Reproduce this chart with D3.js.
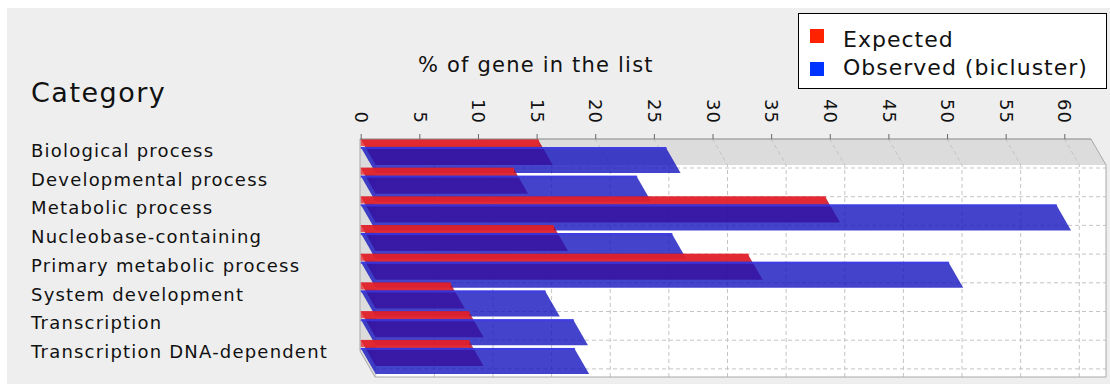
<!DOCTYPE html>
<html>
<head>
<meta charset="utf-8">
<script src="https://cdn.jsdelivr.net/npm/d3@7"></script>
<style>
  body { margin: 0; background: #fff; }
  text { font-family: "DejaVu Sans", sans-serif; fill: #111; }
</style>
</head>
<body>
<div id="chart"></div>
<script>
// Data
const categories = [
    "Biological process",
    "Developmental process",
    "Metabolic process",
    "Nucleobase-containing",
    "Primary metabolic process",
    "System development",
    "Transcription",
    "Transcription DNA-dependent"
];
const expected = [15.1, 13.0, 39.6, 16.4, 33.0, 7.6, 9.2, 9.2];
const observed = [26.0, 23.5, 59.3, 26.5, 50.1, 15.7, 18.1, 18.2];
const xTicks = [0, 5, 10, 15, 20, 25, 30, 35, 40, 45, 50, 55, 60];
const seriesNames = ["Expected", "Observed (bicluster)"];

// dimensions
const W = 1110, H = 388;
const dx = 15, dy = 26;          // 3d offset
const axisY = 139;
const barH = 7;

var svg = d3.select("#chart").append("svg")
    .attr("width", W)
    .attr("height", H);

// panel background
svg.append("rect")
    .attr("x", 7).attr("y", 8)
    .attr("width", W - 7).attr("height", 376)
    .attr("fill", "#eeeeee");

// scales
const x = d3.scaleLinear()
    .domain([0, 60])
    .range([360.7, 1064.3]);
const y = d3.scaleBand()
    .domain(categories)
    .range([axisY, axisY + 8 * 28.7])
    .padding(0);

const xLeft = 360, xRight = 1091;
const wallTop = axisY + dy, wallBottom = 377;

// back wall
svg.append("rect")
    .attr("x", xLeft + dx).attr("y", wallTop)
    .attr("width", xRight - xLeft).attr("height", wallBottom - wallTop)
    .attr("fill", "#ffffff");

// top face + left face
svg.append("path")
    .attr("d", `M${xLeft},${axisY} L${xRight},${axisY} L${xRight + dx},${wallTop} L${xLeft + dx},${wallTop} Z`)
    .attr("fill", "#dcdcdc");
svg.append("path")
    .attr("d", `M${xLeft},${axisY} L${xLeft + dx},${wallTop} L${xLeft + dx},${wallBottom} L${xLeft},${wallBottom - dy} Z`)
    .attr("fill", "#dcdcdc");

// grid lines
const grid = svg.append("g")
    .attr("stroke", "#c4c4c4")
    .attr("stroke-width", 1)
    .attr("stroke-dasharray", "4,3")
    .attr("fill", "none");

grid.selectAll(".vgrid")
    .data(xTicks)
    .enter().append("path")
    .attr("d", d => `M${x(d)},${axisY} L${x(d) + dx},${wallTop} L${x(d) + dx},${wallBottom}`);

grid.selectAll(".hgrid")
    .data(categories)
    .enter().append("line")
    .attr("x1", xLeft + dx).attr("x2", xRight + dx)
    .attr("y1", d => y(d) + 29).attr("y2", d => y(d) + 29);

// wall outline
svg.append("path")
    .attr("d", `M${xRight},${axisY} L${xRight + dx},${wallTop} L${xRight + dx},${wallBottom} L${xLeft + dx},${wallBottom} L${xLeft},${wallBottom - dy}`)
    .attr("fill", "none")
    .attr("stroke", "#a8a8a8");
svg.append("line")
    .attr("x1", xLeft).attr("x2", xLeft)
    .attr("y1", axisY).attr("y2", wallBottom - dy)
    .attr("stroke", "#a8a8a8");

// bars
function barPath(v, y0) {
    let x0 = x(0), x1 = x(v);
    return `M${x0},${y0} L${x1},${y0} L${x1 + dx},${y0 + dy} L${x0 + dx},${y0 + dy} Z`;
}

const series = [
    { values: expected, offset: 0, face: "rgb(190,0,25)", front: "rgb(235,40,45)" },
    { values: observed, offset: 8, face: "rgb(20,20,190)", front: "rgb(60,60,235)" }
];

const bars = svg.append("g");
categories.forEach(function (c, i) {
    series.forEach(function (s) {
        let y0 = y(c) + s.offset;
        let v = s.values[i];
        bars.append("path")
            .attr("d", barPath(v, y0))
            .attr("fill", s.face)
            .attr("fill-opacity", 0.8);
        bars.append("rect")
            .attr("x", x(0)).attr("y", y0)
            .attr("width", x(v) - x(0) + 1).attr("height", s.offset ? 2 : barH)
            .attr("fill", s.front)
            .attr("fill-opacity", 0.75);
    });
});

// X axis on top
const xAxis = d3.axisTop(x)
    .tickValues(xTicks)
    .tickSize(5)
    .tickSizeOuter(0);
const ax = svg.append("g")
    .attr("transform", "translate(0," + axisY + ")")
    .call(xAxis);
ax.select(".domain")
    .attr("d", `M${xLeft},0 H${xRight}`)
    .attr("stroke", "#888");
ax.selectAll(".tick line").attr("stroke", "#666");
ax.selectAll(".tick text")
    .attr("font-size", 18)
    .attr("font-family", "DejaVu Sans")
    .attr("fill", "#111")
    .attr("letter-spacing", 1)
    .attr("text-anchor", "end")
    .attr("transform", "rotate(90)")
    .attr("x", -15)
    .attr("y", 0)
    .attr("dy", "0.35em");

// category labels
svg.selectAll(".cat")
    .data(categories)
    .enter().append("text")
    .attr("x", 31)
    .attr("y", d => y(d) + 18)
    .attr("font-size", 18)
    .attr("letter-spacing", 1.2)
    .text(d => d);

// titles
svg.append("text")
    .attr("x", 31).attr("y", 102)
    .attr("font-size", 27)
    .attr("letter-spacing", 1.5)
    .text("Category");
svg.append("text")
    .attr("x", 418).attr("y", 72)
    .attr("font-size", 21)
    .attr("letter-spacing", 1.2)
    .text("% of gene in the list");

// legend
const legend = svg.append("g");
legend.append("rect")
    .attr("x", 798.5).attr("y", 13.5)
    .attr("width", 308).attr("height", 75)
    .attr("fill", "#fff")
    .attr("stroke", "#000");
const legendColors = ["#ff2200", "#0033ff"];
seriesNames.forEach(function (n, i) {
    legend.append("rect")
        .attr("x", 810).attr("y", 29 + i * 33)
        .attr("width", 14).attr("height", 14)
        .attr("fill", legendColors[i]);
    legend.append("text")
        .attr("x", 843).attr("y", 47 + i * 28)
        .attr("font-size", 22)
        .attr("letter-spacing", 1)
        .text(n);
});
</script>
</body>
</html>
